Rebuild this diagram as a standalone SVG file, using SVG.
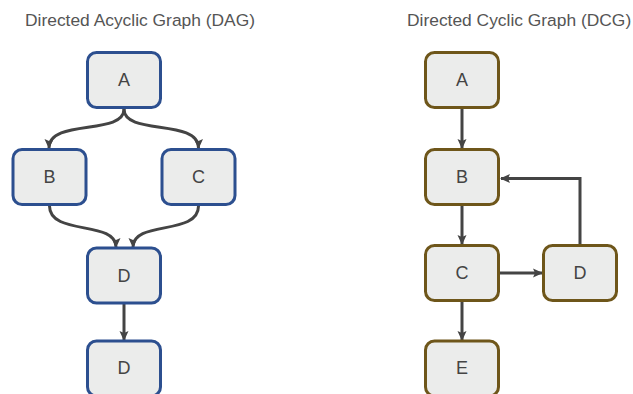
<svg xmlns="http://www.w3.org/2000/svg" width="633" height="394" viewBox="0 0 633 394">
<defs>
<style>
.title{font-family:"Liberation Sans",Arial,sans-serif;font-size:17.4px;fill:#555;}
.lbl{font-family:"Liberation Sans",Arial,sans-serif;font-size:18px;fill:#444;text-anchor:middle;dominant-baseline:central;}
.dag rect{fill:#ebeceb;stroke:#2c4f8f;stroke-width:3;}
.dcg rect{fill:#ebeceb;stroke:#6e561a;stroke-width:3;}
.edge{fill:none;stroke:#444;stroke-width:3;marker-end:url(#arr);}
</style>
<marker id="arr" markerUnits="userSpaceOnUse" markerWidth="10" markerHeight="10" refX="9" refY="5" orient="auto" viewBox="0 0 10 10">
<path d="M0,0.5 L10,5 L0,9.5 L2,5 z" fill="#444"/>
</marker>
</defs>
<rect width="633" height="394" fill="#fff"/>
<text class="title" x="25" y="25.5">Directed Acyclic Graph (DAG)</text>
<text class="title" x="407" y="25.5">Directed Cyclic Graph (DCG)</text>

<g id="connectors">
<path class="edge" d="M124,109 C124,136 49,118 49,148"/>
<path class="edge" d="M124,109 C124,136 198.5,118 198.5,148"/>
<path class="edge" d="M49.5,206 C49.5,236 116,220 116,247"/>
<path class="edge" d="M198.5,206 C198.5,236 133,220 133,247"/>
<path class="edge" d="M124,304 L124,340"/>
<path class="edge" d="M462,108 L462,148"/>
<path class="edge" d="M462,206 L462,244"/>
<path class="edge" d="M462,302 L462,340"/>
<path class="edge" d="M500,273 L542,273"/>
<path class="edge" d="M580,244 L580,178.5 L501,178.5"/>
</g>

<g class="dag">
<g id="dag-A"><rect x="87.5" y="52.5" width="73" height="55" rx="9"/><text class="lbl" x="124" y="80">A</text></g>
<g id="dag-B"><rect x="13" y="149.5" width="73" height="55" rx="9"/><text class="lbl" x="49.5" y="177">B</text></g>
<g id="dag-C"><rect x="162" y="149.5" width="73" height="55" rx="9"/><text class="lbl" x="198.5" y="177">C</text></g>
<g id="dag-D"><rect x="87.5" y="248" width="73" height="55" rx="9"/><text class="lbl" x="124" y="275.5">D</text></g>
<g id="dag-D2"><rect x="87.5" y="341" width="73" height="55" rx="9"/><text class="lbl" x="124" y="368">D</text></g>
</g>

<g class="dcg">
<g id="dcg-A"><rect x="425.5" y="52.5" width="73" height="55" rx="9"/><text class="lbl" x="462" y="80">A</text></g>
<g id="dcg-B"><rect x="425.5" y="149.5" width="73" height="55" rx="9"/><text class="lbl" x="462" y="177">B</text></g>
<g id="dcg-C"><rect x="425.5" y="245.5" width="73" height="55" rx="9"/><text class="lbl" x="462" y="273">C</text></g>
<g id="dcg-D"><rect x="543.5" y="245.5" width="73" height="55" rx="9"/><text class="lbl" x="580" y="273">D</text></g>
<g id="dcg-E"><rect x="425.5" y="341" width="73" height="55" rx="9"/><text class="lbl" x="462" y="368">E</text></g>
</g>
</svg>
